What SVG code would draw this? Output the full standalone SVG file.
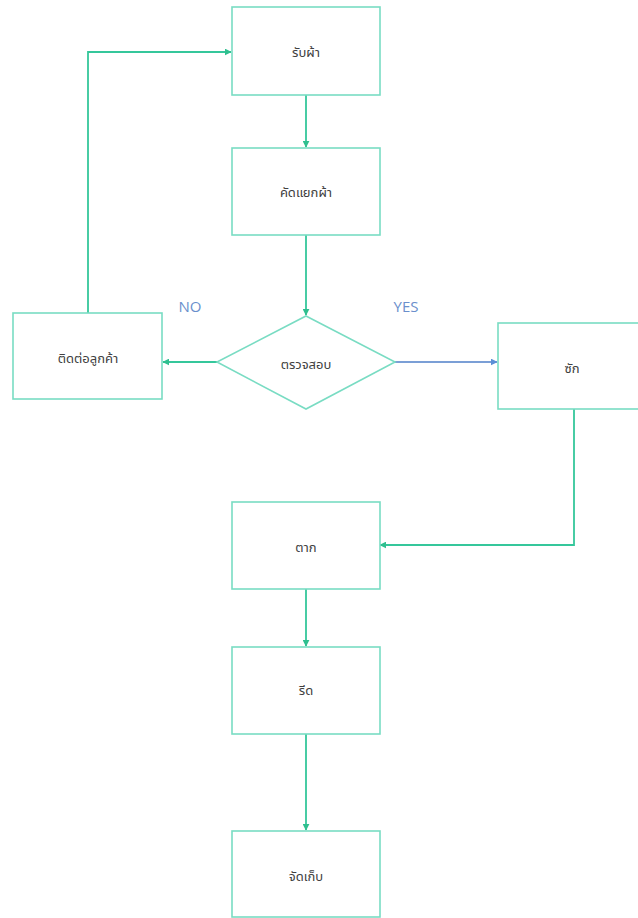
<svg xmlns="http://www.w3.org/2000/svg" width="638" height="918" viewBox="0 0 638 918">
<style>
.box{fill:#fff;stroke:#79dcc3;stroke-width:1.6}
.lbl{font-family:"Noto Sans","Noto Sans Thai","DejaVu Sans",sans-serif;font-size:13px;fill:#404040;text-anchor:middle;dominant-baseline:central}
.yn{font-family:"Open Sans","Noto Sans",sans-serif;font-size:15px;fill:#6a8fcc;text-anchor:middle}
.con{fill:none;stroke:#35c79b;stroke-width:1.8}
.conb{fill:none;stroke:#7b9fd6;stroke-width:1.8}
</style>
<defs>
<marker id="ag" viewBox="0 0 10 10" refX="9" refY="5" markerWidth="7" markerHeight="7" markerUnits="userSpaceOnUse" orient="auto"><path d="M0,0 L10,5 L0,10 z" fill="#2fbf8f"/></marker>
<marker id="ab" viewBox="0 0 10 10" refX="9" refY="5" markerWidth="7" markerHeight="7" markerUnits="userSpaceOnUse" orient="auto"><path d="M0,0 L10,5 L0,10 z" fill="#5b8fd6"/></marker>
</defs>
<rect width="638" height="918" fill="#fff"/>
<g id="connectors">
<path class="con" d="M306,95 V147" marker-end="url(#ag)"/>
<path class="con" d="M306,235 V315" marker-end="url(#ag)"/>
<path class="con" d="M217,362 H163" marker-end="url(#ag)"/>
<path class="conb" d="M395,362 H497" marker-end="url(#ab)"/>
<path class="con" d="M88,313 V52 H231" marker-end="url(#ag)"/>
<path class="con" d="M574,409 V545 H380" marker-end="url(#ag)"/>
<path class="con" d="M306,589 V646" marker-end="url(#ag)"/>
<path class="con" d="M306,734 V830" marker-end="url(#ag)"/>
</g>
<g id="n1"><rect class="box" x="232" y="7" width="148" height="88"/><text class="lbl" x="306" y="52">รับผ้า</text></g>
<g id="n2"><rect class="box" x="232" y="148" width="148" height="87"/><text class="lbl" x="306" y="192">คัดแยกผ้า</text></g>
<g id="n3"><polygon class="box" points="306,316 395,362 306,409 217,362"/><text class="lbl" x="306" y="364">ตรวจสอบ</text></g>
<g id="n4"><rect class="box" x="13" y="313" width="149" height="86"/><text class="lbl" x="88" y="358">ติดต่อลูกค้า</text></g>
<g id="n5"><rect class="box" x="498" y="323" width="142" height="86"/><text class="lbl" x="572" y="368">ซัก</text></g>
<g id="n6"><rect class="box" x="232" y="502" width="148" height="87"/><text class="lbl" x="306" y="547">ตาก</text></g>
<g id="n7"><rect class="box" x="232" y="647" width="148" height="87"/><text class="lbl" x="306" y="690">รีด</text></g>
<g id="n8"><rect class="box" x="232" y="831" width="148" height="86"/><text class="lbl" x="306" y="876">จัดเก็บ</text></g>
<text class="yn" x="190" y="312">NO</text>
<text class="yn" x="406" y="312">YES</text>
</svg>
